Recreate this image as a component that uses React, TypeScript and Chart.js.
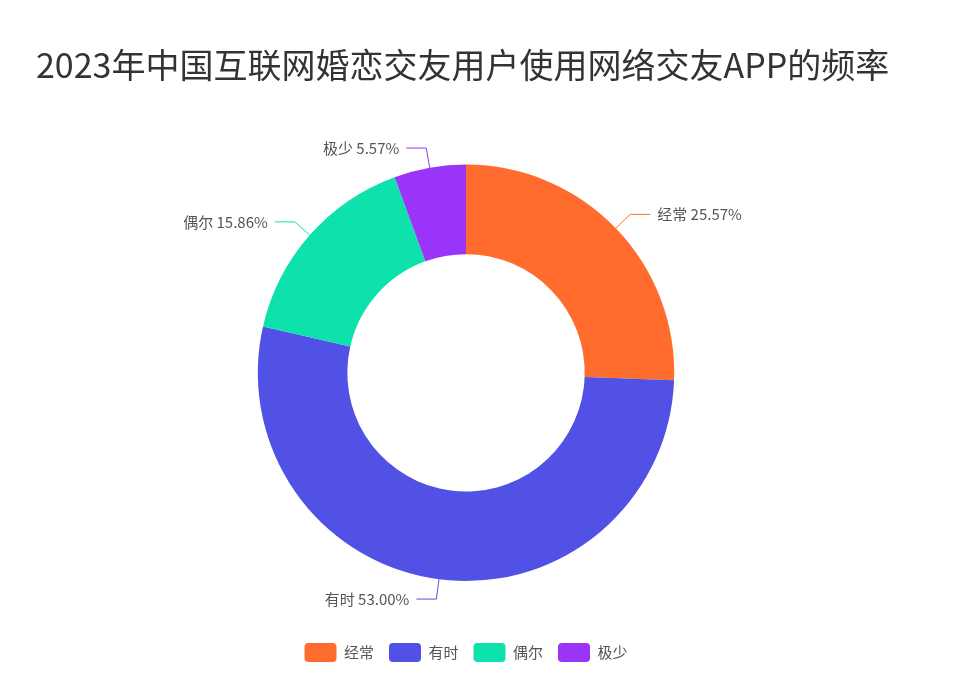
import { useRef, useEffect } from "react";
import { Chart, registerables, Plugin } from "chart.js";

Chart.register(...registerables);

const FONT = '"Noto Sans CJK SC", "Noto Sans", sans-serif';

const titleText = "2023年中国互联网婚恋交友用户使用网络交友APP的频率";
const categories = ["经常", "有时", "偶尔", "极少"];
const shares = [25.57, 53.0, 15.86, 5.57];
const colors = ["#ff6c2d", "#5151e5", "#0de2ad", "#9934f8"];

// leader lines + "name value%" labels outside the ring
const outsideLabels: Plugin<"doughnut"> = {
  id: "outsideLabels",
  afterDatasetsDraw(chart) {
    const ctx = chart.ctx;
    const meta = chart.getDatasetMeta(0);
    ctx.save();
    ctx.font = `15px ${FONT}`;
    ctx.textBaseline = "middle";
    meta.data.forEach((el: any, i) => {
      const { x, y, startAngle, endAngle, outerRadius } = el.getProps(
        ["x", "y", "startAngle", "endAngle", "outerRadius"],
        true
      );
      const mid = (startAngle + endAngle) / 2;
      const cos = Math.cos(mid);
      const sin = Math.sin(mid);
      const x0 = x + cos * outerRadius;
      const y0 = y + sin * outerRadius;
      const x1 = x + cos * (outerRadius + 20);
      const y1 = y + sin * (outerRadius + 20);
      const dir = cos >= 0 ? 1 : -1;
      const x2 = x1 + dir * 20;
      ctx.strokeStyle = colors[i];
      ctx.lineWidth = 1;
      ctx.beginPath();
      ctx.moveTo(x0, y0);
      ctx.lineTo(x1, y1);
      ctx.lineTo(x2, y1);
      ctx.stroke();
      ctx.fillStyle = "#555";
      ctx.textAlign = dir > 0 ? "left" : "right";
      ctx.fillText(`${categories[i]} ${shares[i].toFixed(2)}%`, x2 + dir * 7, y1);
    });
    ctx.restore();
  },
};

export default function App() {
  const canvasRef = useRef<HTMLCanvasElement>(null);

  useEffect(() => {
    if (!canvasRef.current) return;
    Chart.defaults.font.family = FONT;
    const chart = new Chart(canvasRef.current, {
      type: "doughnut",
      data: {
        labels: categories,
        datasets: [
          {
            data: shares,
            backgroundColor: colors,
            borderWidth: 0,
          },
        ],
      },
      options: {
        responsive: true,
        maintainAspectRatio: false,
        animation: false,
        cutout: "57%",
        layout: { padding: { left: 36, right: 64, top: 0, bottom: 13 } },
        plugins: {
          title: {
            display: true,
            text: titleText,
            align: "start",
            color: "#333",
            font: { size: 34, weight: "normal" },
            padding: { top: 44.6, bottom: 79.2 },
          },
          legend: {
            position: "bottom",
            title: {
              display: true,
              text: "",
              font: { size: 12 },
              padding: { top: 0, bottom: 32.6 },
            },
            labels: {
              boxWidth: 32,
              boxHeight: 19,
              useBorderRadius: true,
              borderRadius: 4,
              padding: 15,
              color: "#555",
              font: { size: 15 },
            },
          },
          tooltip: { enabled: false },
        },
      },
      plugins: [outsideLabels],
    });
    return () => chart.destroy();
  }, []);

  return (
    <div style={{ position: "fixed", left: 0, top: 0, width: 960, height: 685, background: "#fff" }}>
      <canvas ref={canvasRef} />
    </div>
  );
}
